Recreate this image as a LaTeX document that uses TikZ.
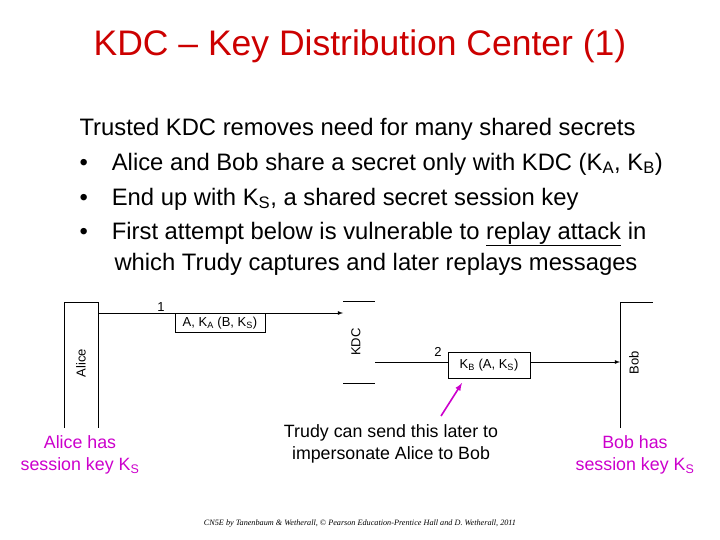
\documentclass[tikz,border=0pt]{standalone}
\usepackage{fontspec}
\setmainfont{Liberation Sans}
\newfontfamily\footfont{Liberation Serif}
\begin{document}
\begin{tikzpicture}[x=1pt,y=-1pt,
  title/.style={text=titlered,font=\fontsize{35.5}{40}\selectfont},
  body/.style={anchor=west,font=\fontsize{23.8}{28}\selectfont},
  dlab/.style={font=\fontsize{13}{15}\selectfont},
  note/.style={font=\fontsize{17.8}{22}\selectfont,align=center},
  line/.style={line width=0.8pt},
  msg/.style={line width=0.8pt,-latex}]
\definecolor{titlered}{RGB}{204,0,0}
\definecolor{pink}{RGB}{204,0,204}
\useasboundingbox (0,0) rectangle (720,540);
\node[title] (t) at (360,46) {KDC -- Key Distribution Center (1)};
\node[body] (b0) at (76,129) {Trusted KDC removes need for many shared secrets};
\node[body] (b1) at (76,164) {•\hspace{24pt}Alice and Bob share a secret only with KDC (K\textsubscript{A}, K\textsubscript{B})};
\node[body] (b2) at (76,199) {•\hspace{24pt}End up with K\textsubscript{S}, a shared secret session key};
\node[body] (b3) at (76,234) {•\hspace{24pt}First attempt below is vulnerable to \underline{replay attack} in};
\node[body] (b4) at (111,264) {which Trudy captures and later replays messages};
% Alice
\draw[line] (64,428) -- (64,302) -- (98,302) -- (98,428);
\node[dlab,rotate=90] (alice) at (81,363) {Alice};
% KDC
\draw[line] (343,301) -- (375,301);
\draw[line] (343,383) -- (375,383);
\node[dlab,rotate=90] (kdc) at (356,342) {KDC};
\coordinate (kdcl) at (343,313);
\coordinate (kdcr) at (375,362);
% Bob
\draw[line] (620,428) -- (620,302) -- (653,302);
\node[dlab,rotate=90] (bob) at (634,363) {Bob};
\coordinate (bobl) at (620,362);
\coordinate (alr) at (98,313);
% msg 1
\node[dlab,draw,line width=0.8pt,minimum width=90pt,minimum height=17pt,anchor=north] (m1) at (220,313) {A, K\textsubscript{A} (B, K\textsubscript{S})};
\draw[line] (alr) -- (m1.north west);
\draw[msg] (m1.north east) -- (kdcl);
\node[dlab] (n1) at (161,307) {1};
% msg 2
\node[dlab,draw,line width=0.8pt,minimum width=82pt,minimum height=26pt] (m2) at (489,365) {K\textsubscript{B} (A, K\textsubscript{S})};
\draw[line] (kdcr) -- (m2.west |- kdcr);
\draw[msg] (m2.east |- kdcr) -- (bobl);
\node[dlab] (n2) at (438,352) {2};
% notes
\node[note,text=pink] (na) at (80,455) {Alice has\\session key K\textsubscript{S}};
\node[note,text=pink] (nb) at (635,455) {Bob has\\session key K\textsubscript{S}};
\node[note] (nt) at (391,444) {Trudy can send this later to\\impersonate Alice to Bob};
\coordinate (tr) at (441,416);
\draw[pink,line width=1.6pt,-latex] (tr) -- (462,383);
\node[font=\footfont\itshape\fontsize{8.2}{10}\selectfont] (ft) at (360,524) {CN5E by Tanenbaum \& Wetherall, © Pearson Education-Prentice Hall and D. Wetherall, 2011};
\end{tikzpicture}
\end{document}
